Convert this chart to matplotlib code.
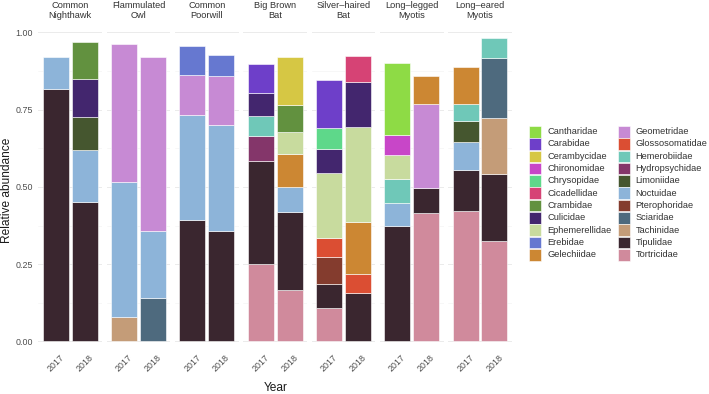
import matplotlib
matplotlib.use('Agg')
import matplotlib.pyplot as plt
from matplotlib.patches import Rectangle

plt.rcParams['font.family'] = ['Liberation Sans', 'DejaVu Sans']

families = ["Cantharidae", "Carabidae", "Cerambycidae", "Chironomidae", "Chrysopidae",
            "Cicadellidae", "Crambidae", "Culicidae", "Ephemerellidae", "Erebidae",
            "Gelechiidae", "Geometridae", "Glossosomatidae", "Hemerobiidae",
            "Hydropsychidae", "Limoniidae", "Noctuidae", "Pterophoridae", "Sciaridae",
            "Tachinidae", "Tipulidae", "Tortricidae"]
colors = ["#8EDB45", "#6E3FC9", "#D6C744", "#C846C8", "#5ED88A",
          "#D64375", "#62913F", "#43266E", "#C8DB9E", "#6678D0",
          "#CC8733", "#C78AD4", "#DB4E33", "#6FC8B8",
          "#84366A", "#45562F", "#8DB4D9", "#843C2E", "#4E6A7E",
          "#C49C78", "#3A262F", "#D08A9C"]

predators = ["Common\nNighthawk", "Flammulated\nOwl", "Common\nPoorwill", "Big Brown\nBat",
             "Silver\u2013haired\nBat", "Long\u2013legged\nMyotis", "Long\u2013eared\nMyotis"]
years = ["2017", "2018"]

nighthawk_2017 = {"Tipulidae": 0.816, "Noctuidae": 0.105}
nighthawk_2018 = {"Tipulidae": 0.450, "Noctuidae": 0.170, "Limoniidae": 0.107,
                  "Culicidae": 0.121, "Crambidae": 0.122}
owl_2017 = {"Tachinidae": 0.078, "Noctuidae": 0.438, "Geometridae": 0.445}
owl_2018 = {"Sciaridae": 0.142, "Noctuidae": 0.214, "Geometridae": 0.565}
poorwill_2017 = {"Tipulidae": 0.394, "Noctuidae": 0.339, "Geometridae": 0.129, "Erebidae": 0.093}
poorwill_2018 = {"Tipulidae": 0.358, "Noctuidae": 0.342, "Geometridae": 0.159, "Erebidae": 0.069}
bigbrown_2017 = {"Tortricidae": 0.250, "Tipulidae": 0.334, "Hydropsychidae": 0.080,
                 "Hemerobiidae": 0.064, "Culicidae": 0.076, "Carabidae": 0.094}
bigbrown_2018 = {"Tortricidae": 0.166, "Tipulidae": 0.252, "Noctuidae": 0.081,
                 "Gelechiidae": 0.108, "Ephemerellidae": 0.071, "Crambidae": 0.087,
                 "Cerambycidae": 0.154}
silver_2017 = {"Tortricidae": 0.109, "Tipulidae": 0.077, "Pterophoridae": 0.088,
               "Glossosomatidae": 0.062, "Ephemerellidae": 0.209, "Culicidae": 0.078,
               "Chrysopidae": 0.066, "Carabidae": 0.156}
silver_2018 = {"Tipulidae": 0.157, "Glossosomatidae": 0.062, "Gelechiidae": 0.167,
               "Ephemerellidae": 0.309, "Culicidae": 0.143, "Cicadellidae": 0.085}
longlegged_2017 = {"Tipulidae": 0.374, "Noctuidae": 0.074, "Hemerobiidae": 0.079,
                   "Ephemerellidae": 0.076, "Chironomidae": 0.065, "Cantharidae": 0.234}
longlegged_2018 = {"Tortricidae": 0.414, "Tipulidae": 0.083, "Geometridae": 0.272,
                   "Gelechiidae": 0.089}
longeared_2017 = {"Tortricidae": 0.421, "Tipulidae": 0.135, "Noctuidae": 0.088,
                  "Limoniidae": 0.070, "Hemerobiidae": 0.054, "Gelechiidae": 0.120}
longeared_2018 = {"Tortricidae": 0.325, "Tipulidae": 0.218, "Tachinidae": 0.180,
                  "Sciaridae": 0.195, "Hemerobiidae": 0.064}

bars = [[nighthawk_2017, nighthawk_2018], [owl_2017, owl_2018],
        [poorwill_2017, poorwill_2018], [bigbrown_2017, bigbrown_2018],
        [silver_2017, silver_2018], [longlegged_2017, longlegged_2018],
        [longeared_2017, longeared_2018]]

yticks = [0, 0.25, 0.5, 0.75, 1.0]
ytick_labels = ["0.00", "0.25", "0.50", "0.75", "1.00"]
yminor = [0.125, 0.375, 0.625, 0.875]

W, H = 709, 394
fig = plt.figure(figsize=(W / 100, H / 100), dpi=100)
panel_left0 = 38.4
panel_w = 63.6
step = 68.3
top, bottom = 22.7, 356.6
grey = "#4D4D4D"

for i, pred in enumerate(predators):
    x0 = panel_left0 + i * step
    ax = fig.add_axes([x0 / W, 1 - bottom / H, panel_w / W, (bottom - top) / H])
    ax.set_xlim(0.4, 2.6)
    ax.set_ylim(-0.049, 1.031)
    for j, bar in enumerate(bars[i]):
        base = 0.0
        for fam in sorted(bar, key=lambda f: -families.index(f)):
            v = bar[fam]
            ax.bar(j + 1, v, bottom=base, width=0.9, color=colors[families.index(fam)],
                   edgecolor="white", linewidth=0.4, zorder=2)
            base += v
    ax.set_yticks(yticks)
    ax.set_yticks(yminor, minor=True)
    ax.grid(which="major", axis="y", color="#EBEBEB", linewidth=0.7, zorder=0)
    ax.grid(which="minor", axis="y", color="#F2F2F2", linewidth=0.4, zorder=0)
    for s in ax.spines.values():
        s.set_visible(False)
    ax.tick_params(which="both", length=0)
    ax.set_xticks([1, 2])
    ax.set_xticklabels(years, rotation=45, ha="center", va="top", fontsize=6.4, color=grey)
    ax.tick_params(axis="x", pad=-2.6)
    if i == 0:
        ax.set_yticklabels(ytick_labels, fontsize=6.4, color=grey)
        ax.tick_params(axis="y", pad=4)
    else:
        ax.set_yticklabels([])
    fig.text((x0 + panel_w / 2) / W, 1 - 10.5 / H, pred, ha="center", va="center",
             fontsize=6.7, color="#333333", linespacing=1.05)

fig.text(7 / W, 1 - 190 / H, "Relative abundance", rotation=90, ha="center", va="center",
         fontsize=8.6, color="#1A1A1A")
fig.text(275.3 / W, 1 - 388 / H, "Year", ha="center", va="center", fontsize=8.6,
         color="#1A1A1A")

# legend
key_w, key_h = 12, 11.6
row0, row_step = 131.7, 12.3
col_key_x = [529, 617.7]
col_txt_x = [547.3, 635.7]
for k, fam in enumerate(families):
    col, row = divmod(k, 11)
    yc = row0 + row * row_step
    fig.patches.append(Rectangle((col_key_x[col] / W, 1 - (yc + key_h / 2) / H),
                                 key_w / W, key_h / H, transform=fig.transFigure,
                                 facecolor=colors[k], edgecolor="white", linewidth=0.4))
    fig.text(col_txt_x[col] / W, 1 - yc / H, fam, ha="left", va="center",
             fontsize=6.7, color="#333333")

fig.savefig("out.png", dpi=100)
